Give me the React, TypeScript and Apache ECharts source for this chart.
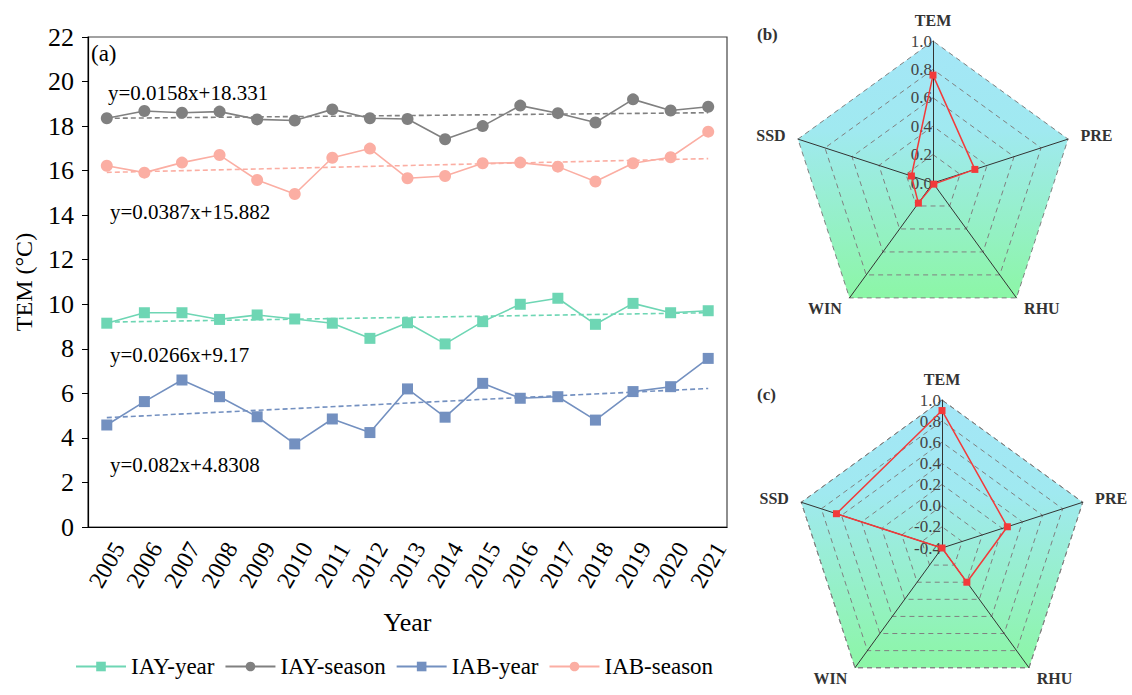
import React, { useEffect, useRef } from "react";
import * as echarts from "echarts";

const FONT = "Liberation Serif, Times New Roman, serif";

const years = ["2005", "2006", "2007", "2008", "2009", "2010", "2011", "2012", "2013", "2014", "2015", "2016", "2017", "2018", "2019", "2020", "2021"];

const iayYear = [9.15, 9.62, 9.62, 9.32, 9.52, 9.34, 9.15, 8.47, 9.17, 8.22, 9.22, 10.0, 10.27, 9.1, 10.04, 9.62, 9.71];
const iaySeason = [18.35, 18.68, 18.6, 18.65, 18.3, 18.25, 18.75, 18.35, 18.32, 17.41, 18.0, 18.92, 18.58, 18.16, 19.2, 18.7, 18.87];
const iabYear = [4.58, 5.63, 6.6, 5.85, 4.95, 3.73, 4.85, 4.24, 6.2, 4.93, 6.45, 5.78, 5.85, 4.8, 6.08, 6.3, 7.57];
const iabSeason = [16.22, 15.91, 16.36, 16.7, 15.58, 14.95, 16.58, 16.99, 15.66, 15.76, 16.33, 16.36, 16.18, 15.51, 16.33, 16.6, 17.75];

// trend line end values (2005, 2021)
const trendIayYear = [9.2, 9.62];
const trendIaySeason = [18.35, 18.6];
const trendIabYear = [4.91, 6.22];
const trendIabSeason = [15.92, 16.54];

const equations = ["y=0.0158x+18.331", "y=0.0387x+15.882", "y=0.0266x+9.17", "y=0.082x+4.8308"];

const seriesNames = ["IAY-year", "IAY-season", "IAB-year", "IAB-season"];
const colors = ["#6ed6b4", "#808080", "#7390c0", "#fbaea3"];

// radar
const radarIndicators = ["TEM", "SSD", "WIN", "RHU", "PRE"];
const radarB = [0.76, 0.16, 0.175, 0.01, 0.31];
const radarC = [0.9, 0.65, -0.4, 0.0, 0.25];
const radarBMin = 0;
const radarCMin = -0.4;
const radarMax = 1.0;

function fmt(v: number) {
  const x = Math.abs(v) < 1e-9 ? 0 : v;
  return x.toFixed(1);
}

export default function App() {
  const ref = useRef<HTMLDivElement>(null);
  useEffect(() => {
    if (!ref.current) return;
    const chart = echarts.init(ref.current, null, { renderer: "svg" });

    const lineSeries = (name: string, data: number[], color: string, symbol: string, size: number, trend: number[]) => ({
      type: "line",
      name,
      data,
      xAxisIndex: 0,
      yAxisIndex: 0,
      symbol,
      symbolSize: size,
      showSymbol: true,
      itemStyle: { color },
      lineStyle: { color, width: 1.6 },
      z: 3,
      markLine: {
        silent: true,
        symbol: "none",
        label: { show: false },
        lineStyle: { color, type: [5, 3], width: 1.6 },
        data: [[{ coord: [years[0], trend[0]] }, { coord: [years[years.length - 1], trend[1]] }]],
      },
    });

    const bgGradient = new echarts.graphic.LinearGradient(0, 0, 0, 1, [
      { offset: 0, color: "#a4e6f7" },
      { offset: 0.35, color: "#a0e9f0" },
      { offset: 1, color: "#8cf6a6" },
    ]);

    const labelStyle = {
      show: true,
      color: "#444",
      fontSize: 17,
      fontFamily: FONT,
      margin: 1,
      formatter: (v: number) => fmt(v),
    };

    const makeRadar = (center: number[], radius: number, min: number, split: number) => ({
      center,
      radius,
      startAngle: 90,
      splitNumber: split,
      shape: "polygon",
      z: 0,
      indicator: radarIndicators.map((n, i) => ({
        name: n,
        min,
        max: radarMax,
        axisLabel: i === 0 ? labelStyle : { show: false },
      })),
      axisName: { color: "#333", fontWeight: "bold", fontSize: 16, fontFamily: FONT },
      nameGap: 13,
      axisLine: { lineStyle: { color: "#333", width: 1 } },
      splitLine: { lineStyle: { color: "#808080", type: [5, 4], width: 1 } },
      splitArea: { show: false },
      axisTick: { show: false },
      axisLabel: { show: false, fontSize: 17, fontFamily: FONT, color: "#444", margin: 1 },
    });

    const option: any = {
      animation: false,
      textStyle: { fontFamily: FONT },
      grid: {
        left: 88,
        top: 37,
        width: 639,
        height: 490,
        show: true,
        borderColor: "#444",
        borderWidth: 1.2,
        backgroundColor: "transparent",
      },
      xAxis: {
        type: "category",
        data: years,
        boundaryGap: true,
        axisLine: { lineStyle: { color: "#000", width: 1.2 } },
        axisTick: { alignWithLabel: true, length: 6, lineStyle: { color: "#000" } },
        axisLabel: {
          rotate: 60,
          fontSize: 24,
          fontFamily: FONT,
          color: "#000",
          margin: 38,
          interval: 0,
          align: "center",
          verticalAlign: "middle",
        },
        name: "Year",
        nameLocation: "middle",
        nameGap: 82,
        nameTextStyle: { fontSize: 26, fontFamily: FONT, color: "#000" },
        splitLine: { show: false },
      },
      yAxis: {
        type: "value",
        min: 0,
        max: 22,
        interval: 2,
        axisLine: { show: true, lineStyle: { color: "#000", width: 1.2 } },
        axisTick: { show: true, length: 6, lineStyle: { color: "#000" } },
        axisLabel: { fontSize: 26, fontFamily: FONT, color: "#000", margin: 14 },
        splitLine: { show: false },
        name: "TEM (°C)",
        nameLocation: "middle",
        nameGap: 52,
        nameRotate: 90,
        nameTextStyle: { fontSize: 24, fontFamily: FONT, color: "#000" },
      },
      legend: {
        data: seriesNames,
        left: 70,
        top: 650,
        itemWidth: 50,
        itemHeight: 12,
        itemGap: 10,
        textStyle: { fontSize: 23, fontFamily: FONT, color: "#000" },
      },
      radar: [makeRadar([933, 183], 142, radarBMin, 5), makeRadar([942, 548], 148, radarCMin, 7)],
      series: [
        lineSeries(seriesNames[0], iayYear, colors[0], "rect", 11, trendIayYear),
        lineSeries(seriesNames[1], iaySeason, colors[1], "circle", 12, trendIaySeason),
        lineSeries(seriesNames[2], iabYear, colors[2], "rect", 11, trendIabYear),
        lineSeries(seriesNames[3], iabSeason, colors[3], "circle", 12, trendIabSeason),
        {
          type: "radar",
          radarIndex: 0,
          z: -1,
          silent: true,
          symbol: "none",
          lineStyle: { width: 0 },
          areaStyle: { color: bgGradient, opacity: 1 },
          data: [{ value: radarIndicators.map(() => radarMax) }],
        },
        {
          type: "radar",
          radarIndex: 1,
          z: -1,
          silent: true,
          symbol: "none",
          lineStyle: { width: 0 },
          areaStyle: { color: bgGradient, opacity: 1 },
          data: [{ value: radarIndicators.map(() => radarMax) }],
        },
        {
          type: "radar",
          radarIndex: 0,
          z: 5,
          symbol: "rect",
          symbolSize: 7,
          itemStyle: { color: "#f23a3a" },
          lineStyle: { color: "#f23a3a", width: 1.5 },
          data: [{ value: radarB }],
        },
        {
          type: "radar",
          radarIndex: 1,
          z: 5,
          symbol: "rect",
          symbolSize: 7,
          itemStyle: { color: "#f23a3a" },
          lineStyle: { color: "#f23a3a", width: 1.5 },
          data: [{ value: radarC }],
        },
      ],
      graphic: [
        { type: "text", left: 91, top: 42, style: { text: "(a)", font: `23px ${FONT}`, fill: "#000" } },
        { type: "text", x: 108, y: 93, style: { text: equations[0], font: `21px ${FONT}`, fill: "#000", verticalAlign: "middle" } },
        { type: "text", x: 110, y: 212, style: { text: equations[1], font: `21px ${FONT}`, fill: "#000", verticalAlign: "middle" } },
        { type: "text", x: 110, y: 355, style: { text: equations[2], font: `21px ${FONT}`, fill: "#000", verticalAlign: "middle" } },
        { type: "text", x: 110, y: 465, style: { text: equations[3], font: `21px ${FONT}`, fill: "#000", verticalAlign: "middle" } },
        { type: "text", x: 757, y: 34, style: { text: "(b)", font: `bold 17px ${FONT}`, fill: "#333", verticalAlign: "middle" } },
        { type: "text", x: 757, y: 394, style: { text: "(c)", font: `bold 17px ${FONT}`, fill: "#333", verticalAlign: "middle" } },
      ],
    };

    chart.setOption(option);
    return () => chart.dispose();
  }, []);

  return <div ref={ref} style={{ position: "absolute", left: 0, top: 0, width: 1132, height: 695 }} />;
}
